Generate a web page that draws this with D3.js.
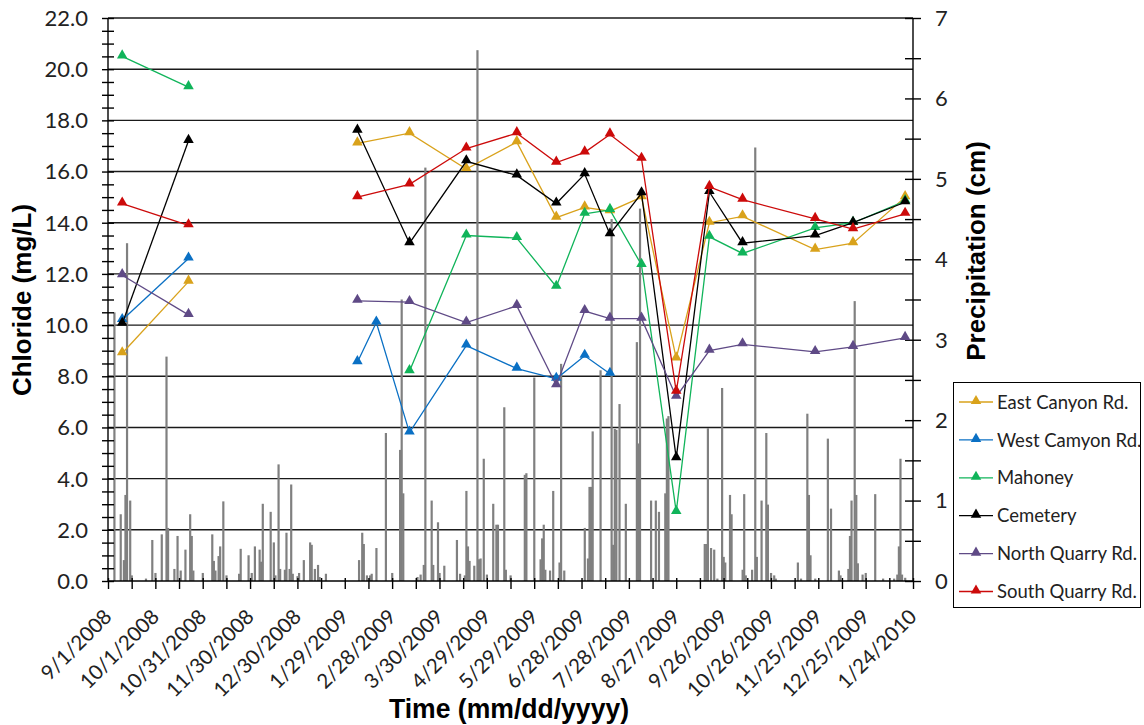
<!DOCTYPE html>
<html lang="en">
<head>
<meta charset="UTF-8">
<title>Chloride and Precipitation</title>
<script src="https://cdn.jsdelivr.net/npm/d3@7"></script>
<style>
  body { margin: 0; background: #fff; }
  svg { display: block; background: #fff; }
  .tick-label { font-family: Lato, "Open Sans", sans-serif; fill: #222; }
  .axis-title { font-family: "Liberation Sans", Arial, sans-serif; font-weight: bold; fill: #000; }
  .legend-text { font-family: Lato, "Open Sans", sans-serif; font-size: 18.5px; fill: #222; }
</style>
</head>
<body>
<svg id="chart" width="1144" height="725"></svg>
<script>
// sampling dates (two campaigns, the gap after the second date is not joined)
const sampleDates = ["2008-09-10", "2008-10-22",
  "2009-02-06", "2009-02-18", "2009-03-11", "2009-04-16", "2009-05-18", "2009-06-12",
  "2009-06-30", "2009-07-16", "2009-08-05", "2009-08-27", "2009-09-17", "2009-10-08",
  "2009-11-23", "2009-12-17", "2010-01-19"];
const campaignStart = [0, 2];

const seriesNames = ["East Canyon Rd.", "West Camyon Rd.", "Mahoney", "Cemetery", "North Quarry Rd.", "South Quarry Rd."];
const seriesColors = ["#D9A21B", "#0A70C4", "#10B45A", "#000000", "#5F4A86", "#CC0A0A"];

const eastCanyon  = [8.9, 11.7, 17.1, null, 17.5, 16.1, 17.15, 14.2, 14.6, 14.45, 15.0, 8.7, 14.0, 14.25, 12.95, 13.2, 15.0];
const westCanyon  = [10.2, 12.6, 8.55, 10.1, 5.8, 9.2, 8.3, 7.9, 8.8, 8.1, null, null, null, null, null, null, null];
const mahoney     = [20.5, 19.3, null, null, 8.2, 13.5, 13.4, 11.5, 14.35, 14.5, 12.35, 2.7, 13.45, 12.8, 13.8, 14.0, 14.85];
const cemetery    = [10.05, 17.2, 17.6, null, 13.2, 16.4, 15.85, 14.75, 15.9, 13.55, 15.15, 4.8, 15.2, 13.2, 13.5, 14.0, 14.8];
const northQuarry = [11.95, 10.4, 10.95, null, 10.9, 10.1, 10.75, 7.65, 10.55, 10.25, 10.25, 7.2, 9.0, 9.25, 8.95, 9.15, 9.5];
const southQuarry = [14.75, 13.9, 15.0, null, 15.5, 16.9, 17.5, 16.35, 16.75, 17.45, 16.5, 7.4, 15.4, 14.9, 14.15, 13.75, 14.35];
const seriesValues = [eastCanyon, westCanyon, mahoney, cemetery, northQuarry, southQuarry];

// daily precipitation, cm (days without rain left out)
const precip = [
  ["2008-09-05", 3.34], ["2008-09-09", 0.83], ["2008-09-11", 0.26], ["2008-09-12", 1.07], ["2008-09-13", 4.2],
  ["2008-09-15", 1.0], ["2008-09-16", 0.07], ["2008-09-25", 0.03], ["2008-09-29", 0.51], ["2008-10-01", 0.1],
  ["2008-10-05", 0.58], ["2008-10-08", 2.79], ["2008-10-09", 0.66], ["2008-10-13", 0.15], ["2008-10-15", 0.56],
  ["2008-10-17", 0.13], ["2008-10-20", 0.39], ["2008-10-23", 0.83], ["2008-10-24", 0.56], ["2008-10-25", 0.13],
  ["2008-10-31", 0.1], ["2008-11-06", 0.58], ["2008-11-07", 0.25], ["2008-11-08", 0.13], ["2008-11-10", 0.31],
  ["2008-11-11", 0.43], ["2008-11-13", 0.99], ["2008-11-15", 0.07], ["2008-11-23", 0.09], ["2008-11-24", 0.4],
  ["2008-11-29", 0.32], ["2008-12-01", 0.1], ["2008-12-03", 0.43], ["2008-12-06", 0.39], ["2008-12-07", 0.24],
  ["2008-12-08", 0.96], ["2008-12-13", 0.86], ["2008-12-15", 0.48], ["2008-12-16", 0.07], ["2008-12-18", 1.45],
  ["2008-12-19", 0.15], ["2008-12-22", 0.14], ["2008-12-23", 0.6], ["2008-12-25", 0.15], ["2008-12-26", 1.2],
  ["2008-12-27", 0.09], ["2008-12-30", 0.06], ["2008-12-31", 0.1], ["2009-01-03", 0.26], ["2009-01-07", 0.48],
  ["2009-01-08", 0.45], ["2009-01-10", 0.15], ["2009-01-12", 0.2], ["2009-01-13", 0.05], ["2009-01-17", 0.09],
  ["2009-02-07", 0.26], ["2009-02-09", 0.6], ["2009-02-10", 0.46], ["2009-02-12", 0.07], ["2009-02-14", 0.07],
  ["2009-02-15", 0.09], ["2009-02-18", 0.41], ["2009-02-24", 1.84], ["2009-02-28", 0.1], ["2009-03-05", 1.63],
  ["2009-03-06", 3.5], ["2009-03-07", 1.09], ["2009-03-16", 0.05], ["2009-03-18", 0.08], ["2009-03-20", 0.2],
  ["2009-03-21", 5.14], ["2009-03-25", 1.0], ["2009-03-26", 0.2], ["2009-03-29", 0.73], ["2009-03-30", 0.1],
  ["2009-04-02", 0.19], ["2009-04-10", 0.51], ["2009-04-12", 0.09], ["2009-04-15", 0.07], ["2009-04-16", 1.12],
  ["2009-04-17", 0.43], ["2009-04-18", 0.25], ["2009-04-21", 0.19], ["2009-04-23", 6.6], ["2009-04-24", 0.27],
  ["2009-04-25", 0.28], ["2009-04-27", 1.52], ["2009-04-29", 0.08], ["2009-05-03", 0.96], ["2009-05-05", 0.7],
  ["2009-05-06", 0.7], ["2009-05-10", 2.16], ["2009-05-11", 0.14], ["2009-05-14", 0.07], ["2009-05-23", 1.32],
  ["2009-05-24", 1.34], ["2009-05-29", 2.53], ["2009-06-02", 0.27], ["2009-06-03", 0.53], ["2009-06-04", 0.7],
  ["2009-06-05", 0.14], ["2009-06-08", 0.13], ["2009-06-10", 1.12], ["2009-06-14", 0.23], ["2009-06-15", 2.7],
  ["2009-06-17", 0.13], ["2009-06-30", 0.66], ["2009-07-02", 0.28], ["2009-07-03", 1.17], ["2009-07-04", 1.17],
  ["2009-07-05", 1.86], ["2009-07-10", 2.62], ["2009-07-17", 4.5], ["2009-07-18", 0.45], ["2009-07-19", 1.89],
  ["2009-07-20", 1.88], ["2009-07-22", 2.2], ["2009-07-26", 0.96], ["2009-08-02", 2.97], ["2009-08-03", 1.71],
  ["2009-08-04", 4.63], ["2009-08-11", 1.0], ["2009-08-14", 1.0], ["2009-08-16", 0.86], ["2009-08-20", 1.09],
  ["2009-08-21", 2.02], ["2009-08-22", 2.05], ["2009-09-14", 0.46], ["2009-09-15", 0.46], ["2009-09-16", 1.9],
  ["2009-09-18", 0.41], ["2009-09-20", 0.39], ["2009-09-22", 0.03], ["2009-09-25", 2.4], ["2009-09-26", 0.3],
  ["2009-09-27", 0.23], ["2009-09-30", 1.07], ["2009-10-01", 0.83], ["2009-10-08", 0.14], ["2009-10-09", 1.08],
  ["2009-10-10", 0.07], ["2009-10-14", 0.14], ["2009-10-16", 5.39], ["2009-10-17", 0.3], ["2009-10-20", 1.0],
  ["2009-10-23", 1.84], ["2009-10-24", 0.95], ["2009-10-26", 0.1], ["2009-10-28", 0.07], ["2009-10-29", 0.03],
  ["2009-11-12", 0.23], ["2009-11-14", 0.03], ["2009-11-18", 2.08], ["2009-11-19", 1.07], ["2009-11-20", 0.32],
  ["2009-11-23", 0.03], ["2009-12-01", 1.77], ["2009-12-03", 0.9], ["2009-12-08", 0.13], ["2009-12-09", 0.07],
  ["2009-12-14", 0.15], ["2009-12-15", 0.56], ["2009-12-16", 1.0], ["2009-12-18", 3.48], ["2009-12-19", 1.07],
  ["2009-12-20", 0.22], ["2009-12-23", 0.08], ["2009-12-25", 0.1], ["2009-12-31", 1.08], ["2010-01-05", 0.03],
  ["2010-01-12", 0.03], ["2010-01-14", 0.08], ["2010-01-15", 0.43], ["2010-01-16", 1.52], ["2010-01-17", 0.08],
  ["2010-01-19", 0.04]
];

const xStart = "2008-09-01", xEnd = "2010-01-24";
const xTickDays = 30, xMinorDays = 15;
const chlorideTicks = d3.range(0, 22.01, 2);
const precipTicks = d3.range(0, 7.01, 1);

const parse = d3.utcParse("%Y-%m-%d");
const fmtDate = d3.utcFormat("%-m/%-d/%Y");

const svg = d3.select("#chart");
const plotLeft = 108, plotRight = 913, plotTop = 18, plotBottom = 581;

const x = d3.scaleUtc().domain([parse(xStart), parse(xEnd)]).range([plotLeft, plotRight]);
const y = d3.scaleLinear().domain([0, 22]).range([plotBottom, plotTop]);
const y2 = d3.scaleLinear().domain([0, 7]).range([plotBottom, plotTop]);

// gridlines
svg.append("g").selectAll("line").data(chlorideTicks.slice(1)).join("line")
  .attr("x1", plotLeft).attr("x2", plotRight)
  .attr("y1", d => y(d)).attr("y2", d => y(d))
  .attr("stroke", "#1a1a1a").attr("stroke-width", 1.4);

// precipitation bars
svg.append("g").selectAll("rect").data(precip).join("rect")
  .attr("x", d => x(parse(d[0])) - 1)
  .attr("width", 2.2)
  .attr("y", d => y2(d[1]))
  .attr("height", d => plotBottom - y2(d[1]))
  .attr("fill", "#808080");

// left axis
const leftAxis = svg.append("g").attr("transform", `translate(${plotLeft},0)`)
  .call(d3.axisLeft(y).tickValues(d3.range(0, 22.01, 0.5)).tickSize(6).tickFormat(""));
leftAxis.selectAll(".tick line").attr("x2", -6).attr("x1", 6).attr("stroke", "#000").attr("stroke-width", 1.4);
leftAxis.select(".domain").attr("stroke", "#000").attr("stroke-width", 1.4).attr("d", `M0,${plotTop}V${plotBottom}`);
svg.append("g").selectAll("text").data(chlorideTicks).join("text")
  .attr("class", "tick-label")
  .attr("x", 88).attr("y", d => y(d)).attr("dy", "0.36em")
  .attr("text-anchor", "end").attr("font-size", 22)
  .text(d3.format(".1f"));

// right axis
const rightAxis = svg.append("g").attr("transform", `translate(${plotRight},0)`)
  .call(d3.axisRight(y2).tickValues(d3.range(0, 7.01, 0.5)).tickSize(8).tickFormat(""));
rightAxis.selectAll(".tick line").attr("x1", -8).attr("x2", 8).attr("stroke", "#000").attr("stroke-width", 1.4);
rightAxis.select(".domain").attr("stroke", "#000").attr("stroke-width", 1.4).attr("d", `M0,${plotTop}V${plotBottom}`);
svg.append("g").selectAll("text").data(precipTicks).join("text")
  .attr("class", "tick-label")
  .attr("x", 935).attr("y", d => y2(d)).attr("dy", "0.36em")
  .attr("font-size", 22)
  .text(d => d);

// bottom axis
const majorDates = d3.range(0, 511, xTickDays).map(n => d3.utcDay.offset(parse(xStart), n));
const minorDates = d3.range(0, 511, xMinorDays).map(n => d3.utcDay.offset(parse(xStart), n));
const bottomAxis = svg.append("g").attr("transform", `translate(0,${plotBottom})`)
  .call(d3.axisBottom(x).tickValues(minorDates).tickSize(8).tickFormat(""));
bottomAxis.selectAll(".tick line").attr("y1", -3).attr("stroke", "#000").attr("stroke-width", 1.4);
bottomAxis.select(".domain").attr("stroke", "#000").attr("stroke-width", 1.4).attr("d", `M${plotLeft},0H${plotRight}`);
svg.append("g").selectAll("text").data(majorDates).join("text")
  .attr("class", "tick-label")
  .attr("font-size", 20.5)
  .attr("text-anchor", "end")
  .attr("transform", d => `translate(${x(d) + 5},${plotBottom + 37}) rotate(-45)`)
  .text(fmtDate);

// chloride series
const line = d3.line().x(d => x(d.date)).y(d => y(d.v));
const triangle = d3.symbol().type(d3.symbolTriangle).size(48);
seriesValues.forEach((vals, si) => {
  const pts = vals.map((v, i) => ({ date: parse(sampleDates[i]), v, i })).filter(p => p.v !== null);
  const g = svg.append("g");
  campaignStart.forEach((s, k) => {
    const e = k + 1 < campaignStart.length ? campaignStart[k + 1] : sampleDates.length;
    const seg = pts.filter(p => p.i >= s && p.i < e);
    g.append("path").datum(seg).attr("d", line)
      .attr("fill", "none").attr("stroke", seriesColors[si]).attr("stroke-width", 1.3);
  });
  g.selectAll(".mk").data(pts).join("path").attr("class", "mk")
    .attr("transform", p => `translate(${x(p.date)},${y(p.v) - 1})`)
    .attr("d", triangle).attr("fill", seriesColors[si]);
});

// axis titles
svg.append("text").attr("class", "axis-title").attr("font-size", 26)
  .attr("transform", "translate(22,300) rotate(-90)")
  .attr("text-anchor", "middle").attr("dominant-baseline", "central")
  .text("Chloride (mg/L)");
svg.append("text").attr("class", "axis-title").attr("font-size", 26)
  .attr("transform", "translate(976,251) rotate(-90)")
  .attr("text-anchor", "middle").attr("dominant-baseline", "central")
  .text("Precipitation (cm)");
svg.append("text").attr("class", "axis-title").attr("font-size", 28)
  .attr("x", 509).attr("y", 718).attr("text-anchor", "middle")
  .attr("textLength", 240).attr("lengthAdjust", "spacingAndGlyphs")
  .text("Time (mm/dd/yyyy)");

// legend
const legend = svg.append("g");
legend.append("rect").attr("x", 953.5).attr("y", 382.5).attr("width", 187).attr("height", 225)
  .attr("fill", "#fff").attr("stroke", "#000").attr("stroke-width", 1);
seriesNames.forEach((name, i) => {
  const ly = 402 + i * 37.9;
  legend.append("line").attr("x1", 959).attr("x2", 993).attr("y1", ly).attr("y2", ly)
    .attr("stroke", seriesColors[i]).attr("stroke-width", 1.3);
  legend.append("path").attr("transform", `translate(976,${ly - 1})`).attr("d", triangle).attr("fill", seriesColors[i]);
  legend.append("text").attr("class", "legend-text").attr("x", 997).attr("y", ly).attr("dy", "0.36em").text(name);
});
</script>
</body>
</html>
